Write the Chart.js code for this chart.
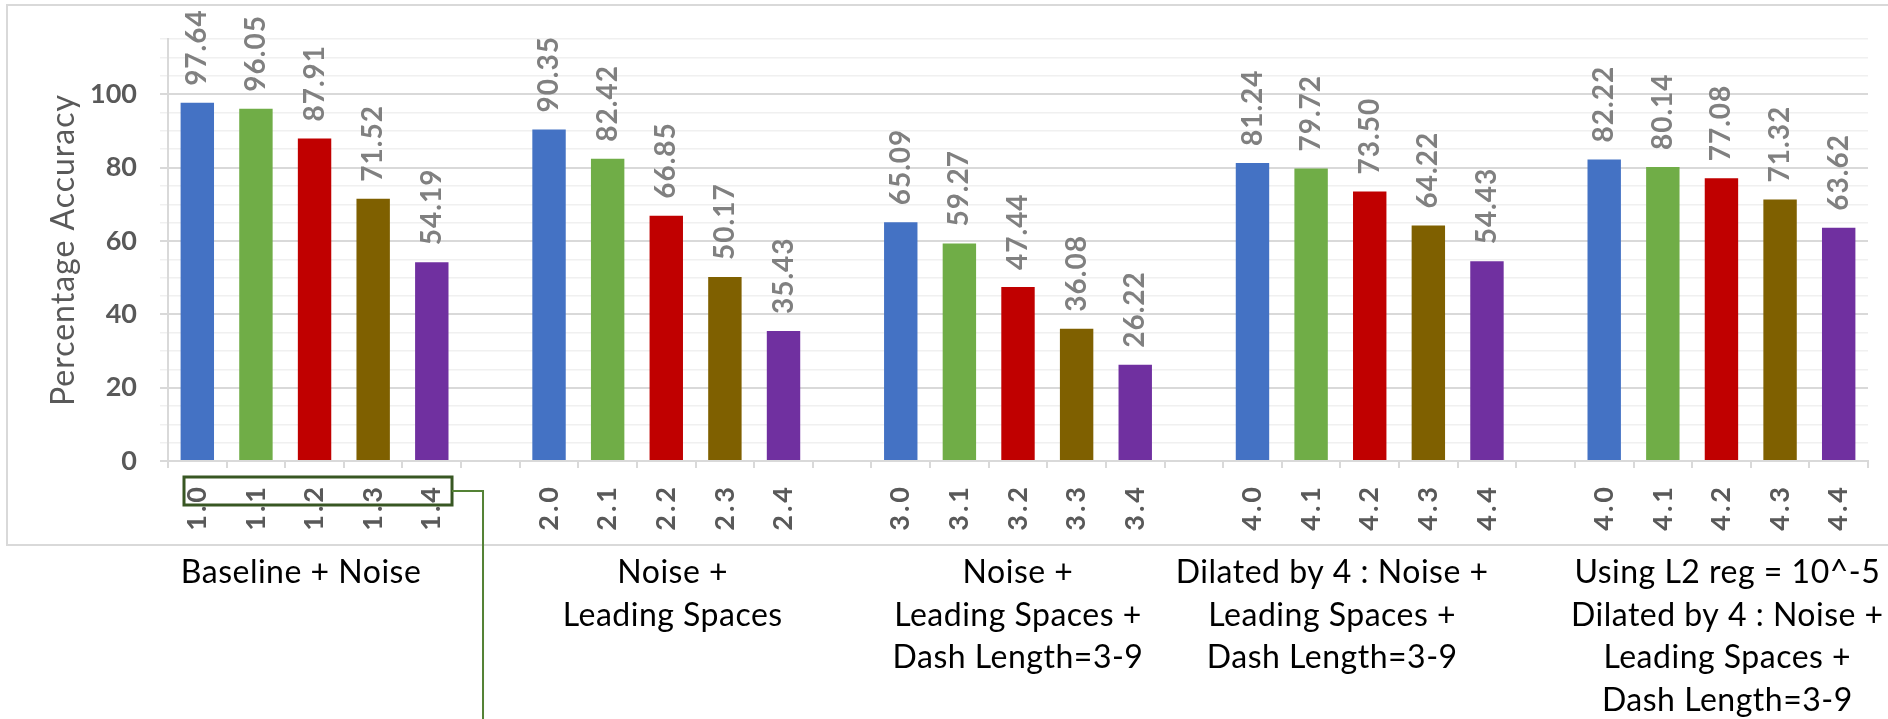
<!DOCTYPE html>
<html>
<head>
<meta charset="utf-8">
<title>Percentage Accuracy by configuration</title>
<script src="https://cdn.jsdelivr.net/npm/chart.js@4/dist/chart.umd.min.js"></script>
<style>
  html, body { margin: 0; padding: 0; background: #ffffff; }
  canvas { display: block; }
</style>
</head>
<body>
<canvas id="chart" width="1888" height="719"></canvas>
<script>
// ---- data ----
const groupTicks = [
  ['1.0', '1.1', '1.2', '1.3', '1.4'],
  ['2.0', '2.1', '2.2', '2.3', '2.4'],
  ['3.0', '3.1', '3.2', '3.3', '3.4'],
  ['4.0', '4.1', '4.2', '4.3', '4.4'],
  ['4.0', '4.1', '4.2', '4.3', '4.4']
];
const baselineNoise      = [97.64, 96.05, 87.91, 71.52, 54.19];
const noiseLeading       = [90.35, 82.42, 66.85, 50.17, 35.43];
const noiseLeadingDash   = [65.09, 59.27, 47.44, 36.08, 26.22];
const dilatedNoiseDash   = [81.24, 79.72, 73.50, 64.22, 54.43];
const l2DilatedNoiseDash = [82.22, 80.14, 77.08, 71.32, 63.62];
const groupValues = [baselineNoise, noiseLeading, noiseLeadingDash, dilatedNoiseDash, l2DilatedNoiseDash];
const groupTitles = [
  ['Baseline + Noise'],
  ['Noise +', 'Leading Spaces'],
  ['Noise +', 'Leading Spaces +', 'Dash Length=3-9'],
  ['Dilated by 4 : Noise +', 'Leading Spaces +', 'Dash Length=3-9'],
  ['Using L2 reg = 10^-5', 'Dilated by 4 : Noise +', 'Leading Spaces +', 'Dash Length=3-9']
];
const variantColors = ['#4472C4', '#70AD47', '#C00000', '#7F6000', '#7030A0'];

// ---- style / layout ----
const FONT = 'Lato, "Open Sans", sans-serif';
const GRID_MAJOR = '#d9d9d9';
const GRID_MINOR = '#f0f0f0';
// where each group caption is centred, in category units
const titleAnchors = [1.77, 8.11, 14.0, 19.36, 26.1];

// flatten groups into one category axis with an empty slot between groups
const labels = [], values = [], colors = [];
groupTicks.forEach((ticks, g) => {
  if (g > 0) { labels.push(''); values.push(null); colors.push('rgba(0,0,0,0)'); }
  ticks.forEach((t, i) => {
    labels.push(t);
    values.push(groupValues[g][i]);
    colors.push(variantColors[i]);
  });
});
const groupStart = g => g * 6;

// wrap a scale's label drawing so its text gets extra tracking
function spaceLabels(chart, scale, spacing) {
  if (!scale || scale._spacedLabels) return;
  const orig = scale.drawLabels.bind(scale);
  scale.drawLabels = function (area) {
    const c = chart.ctx;
    c.save();
    c.letterSpacing = spacing;
    orig(area);
    c.restore();
  };
  const origTitle = scale.drawTitle.bind(scale);
  scale.drawTitle = function () {
    const c = chart.ctx;
    c.save();
    c.letterSpacing = '1px';
    origTitle();
    c.restore();
  };
  scale._spacedLabels = true;
}

// frame around the chart and white page
const framePlugin = {
  id: 'frame',
  beforeDraw(chart) {
    const ctx = chart.ctx;
    ctx.save();
    ctx.fillStyle = '#ffffff';
    ctx.fillRect(0, 0, chart.width, chart.height);
    ctx.strokeStyle = GRID_MAJOR;
    ctx.lineWidth = 2;
    ctx.strokeRect(7, 5, chart.width + 10, 540);
    ctx.restore();

    spaceLabels(chart, chart.scales.x, '3px');
    spaceLabels(chart, chart.scales.y, '0px');
  }
};

// rotated value labels above each bar
const valueLabelPlugin = {
  id: 'valueLabels',
  afterDatasetsDraw(chart) {
    const ctx = chart.ctx;
    const meta = chart.getDatasetMeta(0);
    const data = chart.data.datasets[0].data;
    ctx.save();
    ctx.font = 'bold 28px ' + FONT;
    ctx.letterSpacing = '1px';
    ctx.fillStyle = '#808080';
    ctx.textAlign = 'left';
    ctx.textBaseline = 'middle';
    meta.data.forEach((bar, i) => {
      const v = data[i];
      if (v === null || v === undefined) return;
      ctx.save();
      ctx.translate(bar.x, bar.y - 17);
      ctx.rotate(-Math.PI / 2);
      ctx.fillText(v.toFixed(2), 0, 0);
      ctx.restore();
    });
    ctx.restore();
  }
};

// group captions and the highlight box around the first group's ticks
const captionPlugin = {
  id: 'captions',
  afterDraw(chart) {
    const ctx = chart.ctx;
    const sx = chart.scales.x;
    const axisY = chart.chartArea.bottom;
    ctx.save();
    ctx.font = '32px ' + FONT;
    ctx.letterSpacing = '0.5px';
    ctx.fillStyle = '#000000';
    ctx.textAlign = 'center';
    ctx.textBaseline = 'alphabetic';
    groupTitles.forEach((lines, g) => {
      const cx = sx.getPixelForValue(titleAnchors[g]);
      lines.forEach((line, k) => {
        ctx.fillText(line, cx, 583 + k * 42.5);
      });
    });
    ctx.letterSpacing = '0px';

    // highlight box
    const s = groupStart(0);
    const x0 = sx.getPixelForValue(s - 0.227);
    const x1 = sx.getPixelForValue(s + 4.345);
    const y0 = axisY + 16, y1 = axisY + 44;
    ctx.strokeStyle = '#385723';
    ctx.lineWidth = 3;
    ctx.strokeRect(x0, y0, x1 - x0, y1 - y0);
    // connector running off the bottom
    const ym = (y0 + y1) / 2;
    ctx.strokeStyle = '#548235';
    ctx.lineWidth = 2;
    ctx.beginPath();
    ctx.moveTo(x1, ym);
    ctx.lineTo(x1 + 31, ym);
    ctx.lineTo(x1 + 31, chart.height + 2);
    ctx.stroke();
    ctx.restore();
  }
};

new Chart(document.getElementById('chart'), {
  type: 'bar',
  data: {
    labels: labels,
    datasets: [{
      data: values,
      backgroundColor: colors,
      borderWidth: 0,
      categoryPercentage: 1.0,
      barPercentage: 0.57
    }]
  },
  options: {
    responsive: false,
    devicePixelRatio: 1,
    animation: false,
    layout: { padding: { top: 34, right: 20, left: 0, bottom: 0 } },
    plugins: { legend: { display: false }, tooltip: { enabled: false } },
    scales: {
      x: {
        afterFit(scale) { scale.height = 258; },
        grid: {
          offset: true,
          drawOnChartArea: false,
          drawTicks: true,
          tickLength: 7,
          color: GRID_MAJOR,
          lineWidth: 2
        },
        border: { display: true, color: GRID_MAJOR, width: 2 },
        ticks: {
          autoSkip: false,
          minRotation: 90,
          maxRotation: 90,
          padding: 16,
          color: '#595959',
          font: { family: FONT, size: 27, weight: 'bold' }
        }
      },
      y: {
        min: 0,
        max: 115,
        afterFit(scale) { scale.width = 168; },
        ticks: {
          stepSize: 5,
          autoSkip: false,
          maxTicksLimit: 40,
          padding: 23,
          color: '#595959',
          font: { family: FONT, size: 27, weight: 'bold' },
          callback: v => (v % 20 === 0 ? String(v) : '')
        },
        grid: {
          tickLength: 8,
          color: ctx => (ctx.tick && ctx.tick.value % 20 === 0 ? GRID_MAJOR : GRID_MINOR),
          lineWidth: ctx => (ctx.tick && ctx.tick.value % 20 === 0 ? 2 : 1.5)
        },
        border: { display: true, color: GRID_MAJOR, width: 2 },
        title: {
          display: true,
          text: 'Percentage Accuracy',
          color: '#595959',
          font: { family: FONT, size: 32, weight: 'normal' },
          padding: { top: 44, bottom: 0 }
        }
      }
    }
  },
  plugins: [framePlugin, valueLabelPlugin, captionPlugin]
});
</script>
</body>
</html>
